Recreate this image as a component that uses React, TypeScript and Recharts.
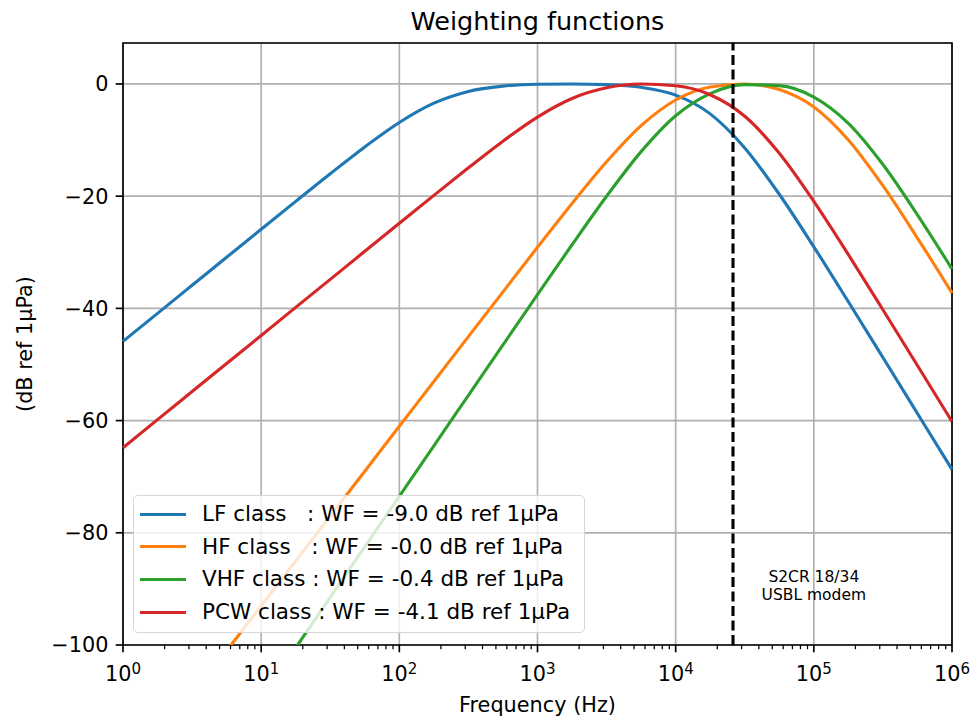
import React from 'react';
import {
  LineChart, Line, XAxis, YAxis, CartesianGrid, ReferenceLine, ReferenceArea, ReferenceDot, Legend, Label,
} from 'recharts';

// frequency grid (Hz), quarter-decade steps
const freqs = [
  1, 1.778, 3.162, 5.623, 10, 17.78, 31.62, 56.23, 100, 177.8, 316.2, 562.3, 1000,
  1778, 3162, 5623, 10000, 17783, 31623, 56234, 100000, 177828, 316228, 562341, 1000000,
];

// weighting functions (dB)
const lfValues = [
  -45.89, -40.89, -35.89, -30.89, -25.9, -20.93, -16.0, -11.22, -6.86, -3.42, -1.33, -0.39, -0.06,
  0.0, -0.12, -0.6, -2.0, -5.33, -11.4, -19.66, -29.03, -38.82, -48.75, -58.73, -68.72,
];
const hfValues = [
  -125.02, -117.02, -109.02, -101.02, -93.02, -85.02, -77.02, -69.02, -61.02, -53.03, -45.03, -37.05, -29.11,
  -21.3, -13.87, -7.43, -2.86, -0.55, -0.01, -0.99, -4.09, -9.98, -18.14, -27.47, -37.25,
];
const vhfValues = [
  -145.49, -136.49, -127.49, -118.49, -109.49, -100.49, -91.49, -82.49, -73.49, -64.49, -55.5, -46.51, -37.55,
  -28.66, -20.02, -12.06, -5.66, -1.71, -0.12, -0.29, -2.33, -7.02, -14.36, -23.32, -32.97,
];
const pcwValues = [
  -64.83, -59.83, -54.83, -49.83, -44.83, -39.83, -34.83, -29.83, -24.84, -19.86, -14.95, -10.19, -5.9,
  -2.59, -0.69, -0.02, -0.32, -1.92, -5.76, -12.35, -20.92, -30.41, -40.24, -50.19, -60.17,
];

const seriesKeys = ['lf', 'hf', 'vhf', 'pcw'];
const seriesNames = [
  'LF class   : WF = -9.0 dB ref 1μPa',
  'HF class   : WF = -0.0 dB ref 1μPa',
  'VHF class : WF = -0.4 dB ref 1μPa',
  'PCW class : WF = -4.1 dB ref 1μPa',
];
const seriesColors = ['#1f77b4', '#ff7f0e', '#2ca02c', '#d62728'];

const decades = [1, 10, 100, 1000, 10000, 100000, 1000000];
const minorTicks = decades.slice(0, -1).flatMap((d) => [2, 3, 4, 5, 6, 7, 8, 9].map((m) => m * d));
const yTicks = [-100, -80, -60, -40, -20, 0];
const modemFreq = 26000;

const data = freqs.map((f, i) => ({
  f,
  lf: lfValues[i],
  hf: hfValues[i],
  vhf: vhfValues[i],
  pcw: pcwValues[i],
}));

const FONT = '"DejaVu Sans", sans-serif';

const XTick = (props: any) => {
  const { x, y, payload } = props;
  const v = payload.value;
  const major = decades.includes(v);
  return (
    <g>
      <line x1={x} x2={x} y1={y} y2={y + (major ? 7.3 : 4.2)} stroke="#000" strokeWidth={major ? 1.67 : 1.25} />
      {major && (
        <text x={x} y={y + 36} textAnchor="middle" fontSize={20.8} fill="#000" fontFamily={FONT}>
          10<tspan dy={-7.5} fontSize={15}>{Math.round(Math.log10(v))}</tspan>
        </text>
      )}
    </g>
  );
};

const LegendBox = () => (
  <div
    style={{
      width: 452, height: 138, boxSizing: 'border-box', border: '1.5px solid #d6d6d6', borderRadius: 5,
      background: 'rgba(255,255,255,0.8)', position: 'relative', fontFamily: FONT,
    }}
  >
    {seriesNames.map((name, i) => (
      <div
        key={name}
        style={{ position: 'absolute', left: 0, top: 3 + i * 32.7, height: 30, display: 'flex', alignItems: 'center' }}
      >
        <div style={{ marginLeft: 6, width: 46, height: 3, background: seriesColors[i] }} />
        <span style={{ marginLeft: 16, fontSize: 21.5, lineHeight: '30px', whiteSpace: 'pre', color: '#000' }}>{name}</span>
      </div>
    ))}
  </div>
);

export default function App() {
  return (
    <div style={{ position: 'absolute', left: 0, top: 0, width: 971, height: 718, background: '#fff', fontFamily: FONT }}>
      <div
        style={{
          position: 'absolute', left: 123, top: 7, width: 829, textAlign: 'center', fontSize: 25.5,
          lineHeight: '29px', color: '#000', zIndex: 2,
        }}
      >
        Weighting functions
      </div>
      <LineChart width={971} height={718} data={data} margin={{ top: 43, right: 19, bottom: 0, left: 0 }}>
        <CartesianGrid xAxisId="grid" stroke="#b0b0b0" strokeWidth={1.67} />
        <XAxis
          xAxisId="grid"
          dataKey="f"
          type="number"
          scale="log"
          domain={[1, 1000000]}
          ticks={decades}
          height={0}
          hide
        />
        <XAxis
          xAxisId="main"
          dataKey="f"
          type="number"
          scale="log"
          domain={[1, 1000000]}
          ticks={[...decades, ...minorTicks]}
          interval={0}
          height={73}
          tickSize={0}
          tickMargin={0}
          tickLine={false}
          axisLine={false}
          tick={<XTick />}
        >
          <Label
            content={(p: any) => {
              const vb = p.viewBox;
              return (
                <text x={vb.x + vb.width / 2} y={vb.y + 67} textAnchor="middle" fontSize={20.8} fill="#000" fontFamily={FONT}>
                  Frequency (Hz)
                </text>
              );
            }}
          />
        </XAxis>
        <YAxis
          type="number"
          domain={[-100, 7.3]}
          ticks={yTicks}
          interval={0}
          allowDataOverflow
          width={123}
          tickSize={7.3}
          tickMargin={7.3}
          axisLine={false}
          tickLine={{ stroke: '#000', strokeWidth: 1.67 }}
          tick={{ fill: '#000', fontSize: 20.8, fontFamily: FONT }}
          tickFormatter={(v: number) => (v < 0 ? '\u2212' + Math.abs(v) : String(v))}
        >
          <Label
            content={(p: any) => {
              const vb = p.viewBox;
              const cx = vb.x + 25;
              const cy = vb.y + vb.height / 2;
              return (
                <text
                  x={cx}
                  y={cy}
                  transform={`rotate(-90, ${cx}, ${cy})`}
                  textAnchor="middle"
                  dominantBaseline="central"
                  fontSize={20.8}
                  fill="#000"
                  fontFamily={FONT}
                >
                  (dB ref 1μPa)
                </text>
              );
            }}
          />
        </YAxis>
        {seriesKeys.map((k, i) => (
          <Line
            key={k}
            xAxisId="main"
            dataKey={k}
            name={seriesNames[i]}
            type="monotone"
            stroke={seriesColors[i]}
            strokeWidth={3.1}
            dot={false}
            activeDot={false}
            isAnimationActive={false}
          />
        ))}
        <ReferenceLine xAxisId="main" x={modemFreq} stroke="#000" strokeWidth={3.1} strokeDasharray="10 4.5" />
        <ReferenceDot
          xAxisId="main"
          x={100000}
          y={-90}
          r={1}
          fill="none"
          stroke="none"
          label={{
            content: (p: any) => {
              const vb = p.viewBox;
              const cx = vb.x + vb.width / 2;
              const cy = vb.y + vb.height / 2;
              return (
                <g fontSize={15.5} fill="#000" fontFamily={FONT} textAnchor="middle">
                  <text x={cx} y={cy - 7}>S2CR 18/34</text>
                  <text x={cx} y={cy + 11.5}>USBL modem</text>
                </g>
              );
            },
          }}
        />
        <ReferenceArea
          xAxisId="main"
          x1={1}
          x2={1000000}
          y1={-100}
          y2={7.3}
          fill="none"
          fillOpacity={0}
          stroke="#000"
          strokeWidth={1.67}
          ifOverflow="visible"
        />
        <Legend
          content={<LegendBox />}
          layout="vertical"
          align="center"
          verticalAlign="middle"
          wrapperStyle={{ left: 133, top: 495, width: 452, height: 138 }}
        />
      </LineChart>
    </div>
  );
}
